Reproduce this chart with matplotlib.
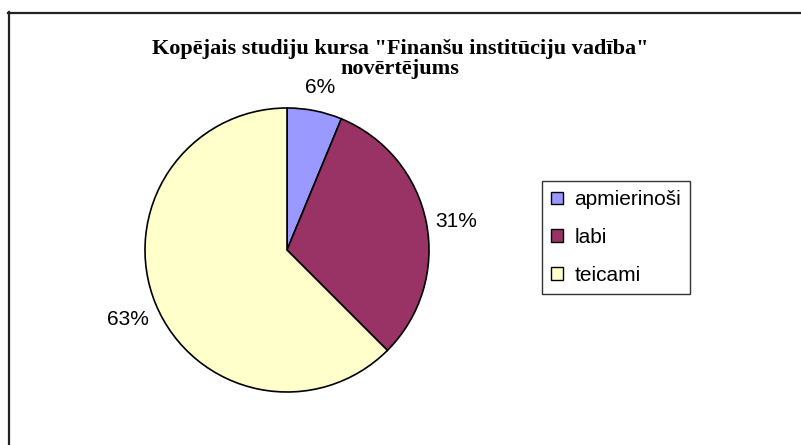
import matplotlib.pyplot as plt
from matplotlib.patches import Patch
from matplotlib.lines import Line2D

# dati
categories = ['apmierinoši', 'labi', 'teicami']
counts = [2, 10, 20]
colors = ['#9999FF', '#993366', '#FFFFCC']
title = 'Kopējais studiju kursa "Finanšu institūciju vadība"\nnovērtējums'

W, H = 801, 445
fig = plt.figure(figsize=(W / 100, H / 100), dpi=100)

# rāmis (tikai kreisā un augšējā mala redzama)
fig.add_artist(Line2D([8.5 / W, 8.5 / W], [0, 1 - 12 / H], transform=fig.transFigure,
                      color='#222222', lw=1.6))
fig.add_artist(Line2D([8 / W, 1], [1 - 12.5 / H, 1 - 12.5 / H], transform=fig.transFigure,
                      color='#222222', lw=1.6))

cx, cy, r = 287, 250, 142
ax = fig.add_axes([(cx - r) / W, (H - cy - r) / H, 2 * r / W, 2 * r / H])
wedges, texts, autotexts = ax.pie(
    counts, colors=colors, startangle=90, counterclock=False,
    autopct=lambda p: '%d%%' % int(p + 0.5), pctdistance=1.2,
    wedgeprops=dict(edgecolor='black', linewidth=1.2),
    textprops=dict(family='Liberation Sans', fontsize=15))
for t in autotexts:
    x, y = t.get_position()
    t.set_position((x * 1.01, y - 0.03))
ax.set_xlim(-1, 1)
ax.set_ylim(-1, 1)
ax.set_aspect('equal')
ax.axis('off')

fig.text(400 / W, 1 - 59 / H, title, ha='center', va='center', family='Liberation Serif',
         fontweight='bold', fontsize=16, linespacing=1.0)

handles = [Patch(facecolor=c, edgecolor='black', linewidth=1) for c in colors]
leg = fig.legend(handles, categories, loc='upper left',
                 bbox_to_anchor=(542 / W, 1 - 181 / H),
                 prop=dict(family='Liberation Sans', size=15),
                 frameon=True, fancybox=False, shadow=False,
                 handlelength=0.55, handleheight=0.55, handletextpad=0.55,
                 labelspacing=0.9, borderpad=0.45, borderaxespad=0)
leg.get_frame().set_edgecolor('black')
leg.get_frame().set_linewidth(1)

fig.savefig('out.png', dpi=100)
